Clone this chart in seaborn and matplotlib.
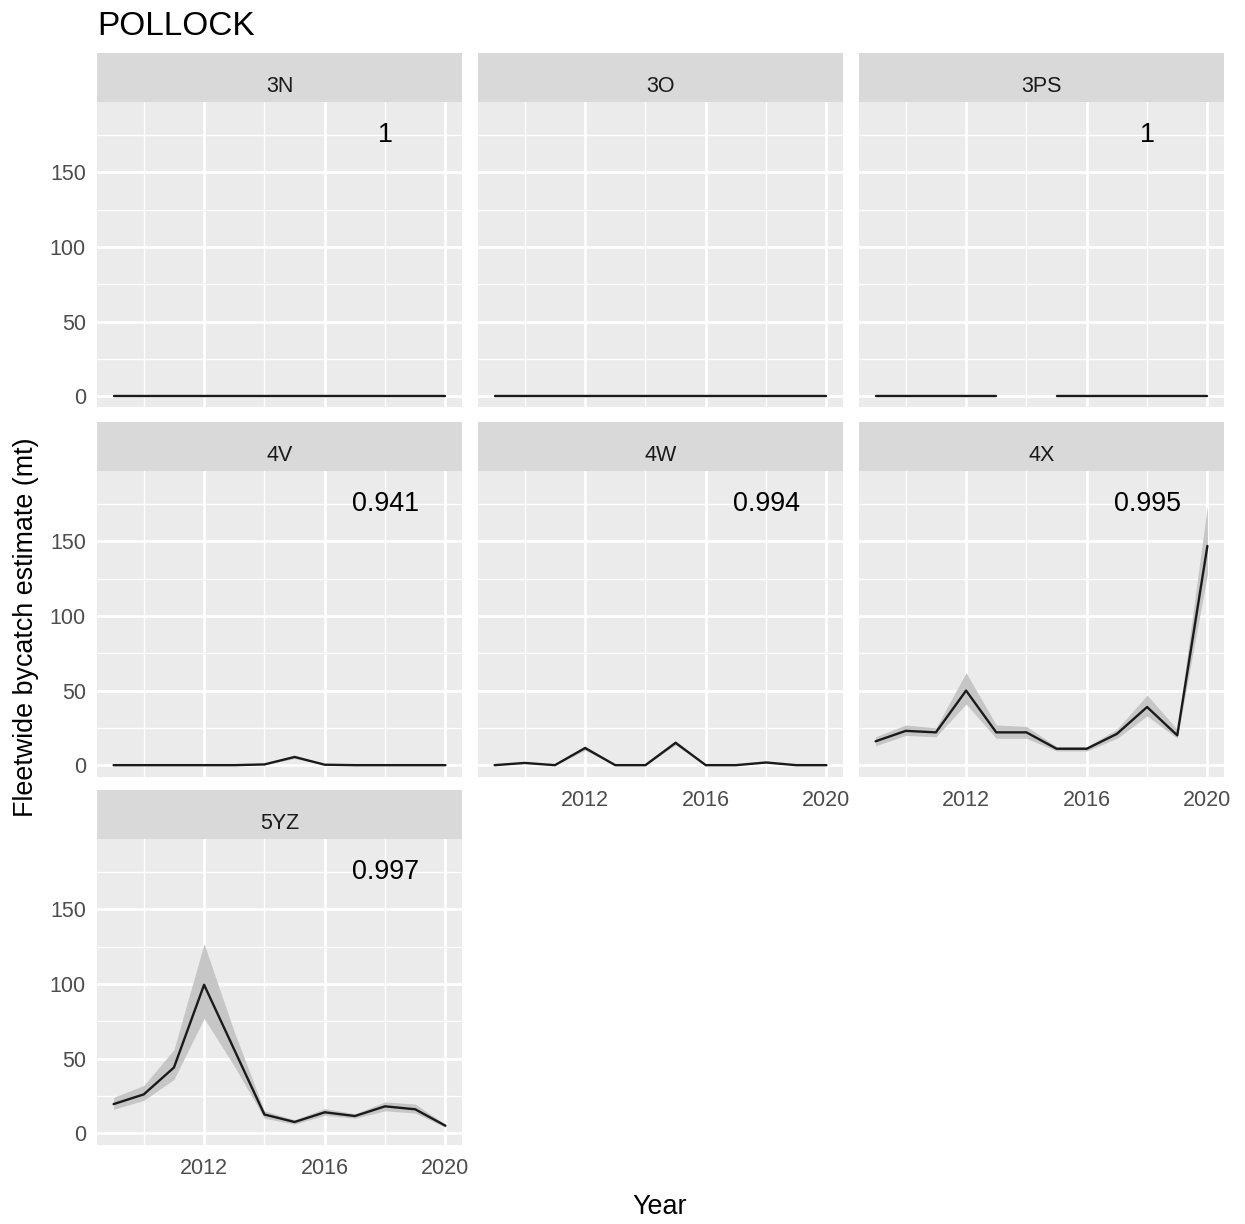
import numpy as np
import pandas as pd
import matplotlib
matplotlib.use("Agg")
import matplotlib.pyplot as plt
import seaborn as sns

# ---------------------------------------------------------------- data
years = [2009, 2010, 2011, 2012, 2013, 2014, 2015, 2016, 2017, 2018, 2019, 2020]

regions = ["3N", "3O", "3PS", "4V", "4W", "4X", "5YZ"]
r_labels = ["1", "", "1", "0.941", "0.994", "0.995", "0.997"]

est_3N = [0, 0, 0, 0, 0, 0, 0, 0, 0, 0, 0, 0]
lo_3N = [0, 0, 0, 0, 0, 0, 0, 0, 0, 0, 0, 0]
hi_3N = [0, 0, 0, 0, 0, 0, 0, 0, 0, 0, 0, 0]

est_3O = [0, 0, 0, 0, 0, 0, 0, 0, 0, 0, 0, 0]
lo_3O = [0, 0, 0, 0, 0, 0, 0, 0, 0, 0, 0, 0]
hi_3O = [0, 0, 0, 0, 0, 0, 0, 0, 0, 0, 0, 0]

est_3PS = [0, 0, 0, 0, 0, np.nan, 0, 0, 0, 0, 0, 0]
lo_3PS = [0, 0, 0, 0, 0, np.nan, 0, 0, 0, 0, 0, 0]
hi_3PS = [0, 0, 0, 0, 0, np.nan, 0, 0, 0, 0, 0, 0]

est_4V = [0, 0, 0, 0, 0, 0.5, 5.5, 0.3, 0, 0, 0, 0]
lo_4V = [0, 0, 0, 0, 0, 0.3, 4.5, 0.2, 0, 0, 0, 0]
hi_4V = [0, 0, 0, 0, 0, 0.8, 6.5, 0.5, 0, 0, 0, 0]

est_4W = [0, 1.5, 0, 11.5, 0, 0, 15, 0, 0, 1.8, 0, 0]
lo_4W = [0, 1.2, 0, 10.0, 0, 0, 13.5, 0, 0, 1.5, 0, 0]
hi_4W = [0, 1.8, 0, 13.0, 0, 0, 16.5, 0, 0, 2.1, 0, 0]

est_4X = [16, 23, 22, 50, 22, 22, 11, 11, 21, 39, 20, 147]
lo_4X = [13, 20, 19, 41, 18, 18, 9.5, 9.5, 18, 33, 18, 128]
hi_4X = [19, 27, 25, 62, 27, 26, 12.5, 12.5, 24, 47, 24, 174]

est_5YZ = [19.5, 26, 44, 99.5, 56, 12.5, 7.5, 14, 11.5, 18, 16, 5]
lo_5YZ = [16, 22, 36, 77, 45, 10, 6, 12, 10, 15, 13.5, 4]
hi_5YZ = [24, 32, 56, 127, 68, 15, 9, 16.5, 13, 21, 19.5, 6]

series = {
    "3N": (est_3N, lo_3N, hi_3N),
    "3O": (est_3O, lo_3O, hi_3O),
    "3PS": (est_3PS, lo_3PS, hi_3PS),
    "4V": (est_4V, lo_4V, hi_4V),
    "4W": (est_4W, lo_4W, hi_4W),
    "4X": (est_4X, lo_4X, hi_4X),
    "5YZ": (est_5YZ, lo_5YZ, hi_5YZ),
}

frames = []
for reg in regions:
    e, lo, hi = series[reg]
    d = pd.DataFrame({"Region": reg, "Year": years, "Estimate": e,
                      "Lower": lo, "Upper": hi})
    # break the line wherever a year is missing
    d["segment"] = d["Estimate"].isna().cumsum()
    frames.append(d)
df = pd.concat(frames, ignore_index=True)

# ---------------------------------------------------------------- style
sns.set_style("darkgrid")
plt.rcParams["font.family"] = ["Liberation Sans", "DejaVu Sans"]

W, H = 1245, 1224
fig = plt.figure(figsize=(W / 100, H / 100), dpi=100)
fig.patch.set_facecolor("white")

col_left = [97, 478, 859]
strip_top = [53, 422, 790]
panel_w = 365
strip_h = 48.5
panel_h = 306

PANEL_BG = "#EBEBEB"
STRIP_BG = "#D9D9D9"
TICK_LABEL = "#4D4D4D"
TICK_SIZE = 15.5

bottom_x_labels = {"4W", "4X", "5YZ"}

for i, reg in enumerate(regions):
    r, c = divmod(i, 3)
    x0 = col_left[c]
    top = strip_top[r]

    # facet strip
    sax = fig.add_axes([x0 / W, 1 - (top + strip_h) / H, panel_w / W, strip_h / H])
    sax.set_facecolor(STRIP_BG)
    sax.set_xticks([])
    sax.set_yticks([])
    for s in sax.spines.values():
        s.set_visible(False)
    sax.text(0.5, 0.2, reg, ha="center", va="baseline", fontsize=15.5,
             color="#1A1A1A", transform=sax.transAxes)

    # panel
    ptop = top + strip_h
    ax = fig.add_axes([x0 / W, 1 - (ptop + panel_h) / H, panel_w / W, panel_h / H])
    ax.set_facecolor(PANEL_BG)
    sub = df[df["Region"] == reg]

    ax.fill_between(sub["Year"], sub["Lower"], sub["Upper"],
                    color="#C6C6C6", linewidth=0, zorder=2)
    sns.lineplot(data=sub, x="Year", y="Estimate", units="segment",
                 estimator=None, ax=ax, color="#1A1A1A", linewidth=1.7,
                 legend=False, zorder=3)

    if r_labels[i]:
        ax.text(2018, 175, r_labels[i], ha="center", va="center",
                fontsize=19.4, color="black", zorder=4)

    ax.set_xlim(2008.45, 2020.55)
    ax.set_ylim(-7.6, 197.6)
    ax.set_xticks([2012, 2016, 2020])
    ax.set_xticks([2010, 2014, 2018], minor=True)
    ax.set_yticks([0, 50, 100, 150])
    ax.set_yticks([25, 75, 125, 175], minor=True)
    ax.grid(which="major", color="white", linewidth=1.9)
    ax.grid(which="minor", color="white", linewidth=1.0)
    ax.set_axisbelow(True)
    for s in ax.spines.values():
        s.set_visible(False)
    ax.set_xlabel("")
    ax.set_ylabel("")

    ax.tick_params(which="minor", length=0)
    ax.tick_params(which="major", length=5, width=1.1, color="#333333",
                   labelcolor=TICK_LABEL, labelsize=TICK_SIZE, pad=3)
    ax.tick_params(axis="x", which="major", pad=5)

    if c != 0:
        ax.tick_params(axis="y", which="major", length=0, labelleft=False)
    if reg not in bottom_x_labels:
        ax.tick_params(axis="x", which="major", length=0, labelbottom=False)

# ---------------------------------------------------------------- titles
fig.text(97 / W, 1 - 35 / H, "POLLOCK", ha="left", va="baseline",
         fontsize=24, color="black")
fig.text(660 / W, 1 - 1207 / H, "Year", ha="center", va="center",
         fontsize=19.4, color="black")
fig.text(26 / W, 1 - 627 / H, "Fleetwide bycatch estimate (mt)",
         ha="center", va="center", rotation=90, fontsize=19.4, color="black")

fig.savefig("out.png", dpi=100, facecolor="white")
